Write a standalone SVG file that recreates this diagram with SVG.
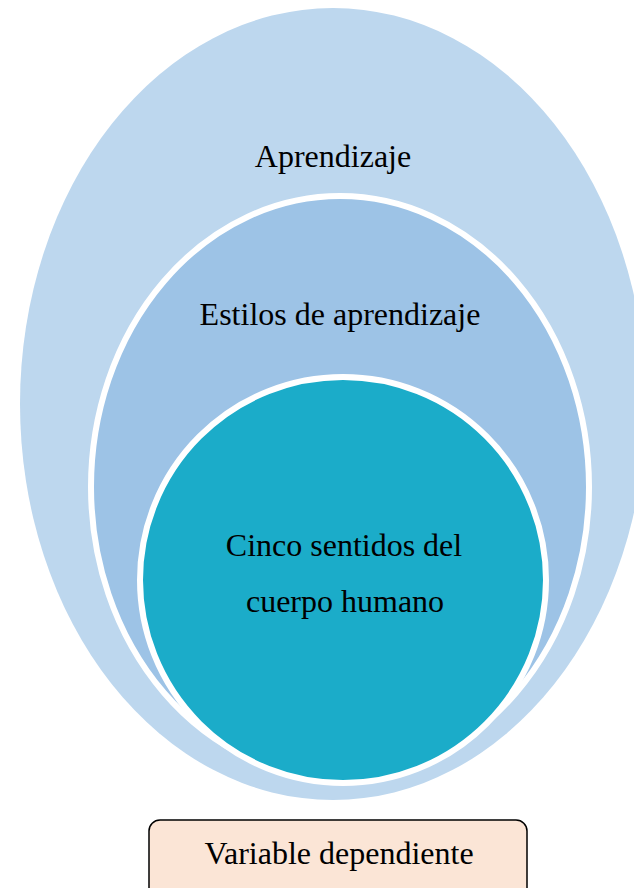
<svg xmlns="http://www.w3.org/2000/svg" width="634" height="888" viewBox="0 0 634 888">
<style>
text{font-family:'Liberation Serif','Times New Roman','DejaVu Serif',serif;font-size:32px;fill:#000;text-anchor:middle}
.ring{stroke:#fff;stroke-width:6}
</style>
<rect width="634" height="888" fill="#fff"/>
<g id="aprendizaje">
<ellipse cx="333" cy="404" rx="313" ry="396" fill="#BDD7EE"/>
<text x="333" y="167">Aprendizaje</text>
</g>
<g id="estilos">
<ellipse class="ring" cx="340" cy="487" rx="249" ry="291" fill="#9DC3E6"/>
<text x="340" y="325">Estilos de aprendizaje</text>
</g>
<g id="cinco-sentidos">
<circle class="ring" cx="343" cy="580" r="203" fill="#1BACC9"/>
<text x="344" y="556">Cinco sentidos del</text>
<text x="345" y="612">cuerpo humano</text>
</g>
<g id="variable">
<rect x="149" y="820" width="378" height="80" rx="11" fill="#FBE5D6" stroke="#000" stroke-width="1.5"/>
<text x="339" y="864">Variable dependiente</text>
</g>
<g id="connectors"/>
</svg>
